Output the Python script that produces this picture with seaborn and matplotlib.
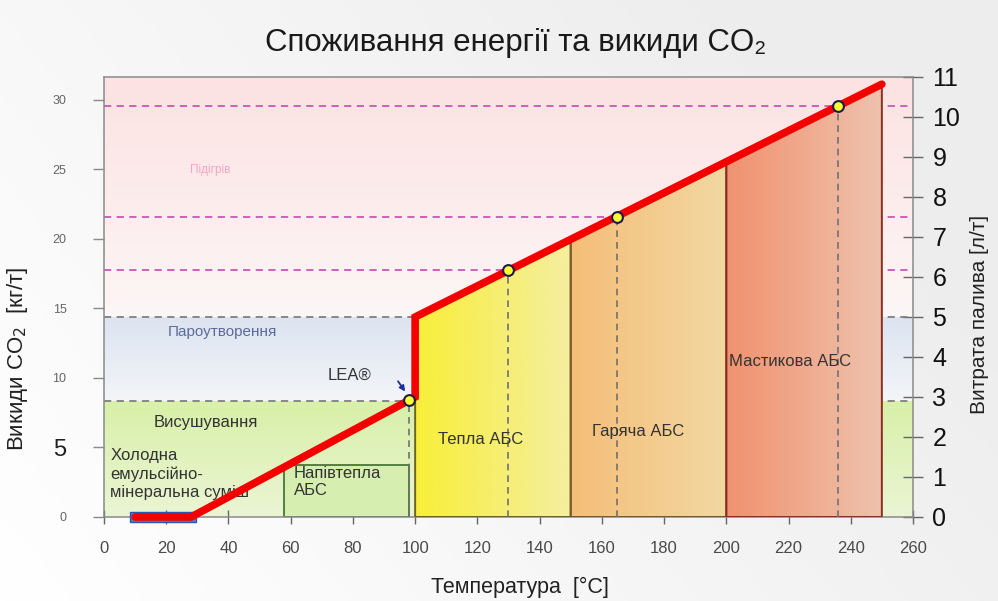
import numpy as np
import matplotlib
matplotlib.use("Agg")
import matplotlib.pyplot as plt
from matplotlib.patches import Polygon, Rectangle
import seaborn as sns

# temperature [°C] vs fuel consumption [l/t]
line_temp = [10, 28, 100, 100, 250]
line_fuel = [0.0, 0.0, 3.0, 5.0, 10.82]

point_temp = [98, 130, 165, 236]
point_fuel = [2.92, 6.18, 7.5, 10.28]

pink_levels = [6.18, 7.5, 10.28]
gray_levels = [2.9, 5.0]

band_limits = [0, 2.9, 5.0, 11]
band_names = ["Висушування", "Пароутворення", "Підігрів"]

mix_names = ["Тепла АБС", "Гаряча АБС", "Мастикова АБС"]
mix_start = [100, 150, 200]
mix_end = [150, 200, 250]

semi_warm_x = [58, 98]
semi_warm_top = 1.3
cold_mix_x = [8.5, 29.5]

x_ticks = list(range(0, 261, 20))
fuel_ticks = list(range(0, 12))
co2_ticks = [0, 5, 10, 15, 20, 25, 30]
co2_max = 31.65

sns.set_theme(style="white")
plt.rcParams["font.family"] = ["Liberation Sans", "DejaVu Sans"]

fig = plt.figure(figsize=(9.98, 6.01), dpi=100)

# light grey page background
bg = fig.add_axes([0, 0, 1, 1], zorder=-10)
gx = np.linspace(0, 1, 200)
gy = np.linspace(0, 1, 120)
GX, GY = np.meshgrid(gx, gy)
shade = 1.0 - 0.07 * np.clip(GX * 0.8 + (1 - GY) * 0.4, 0, 1)
bg.imshow(np.dstack([shade, shade, shade]), extent=[0, 1, 0, 1], aspect="auto", origin="upper")
bg.set_axis_off()

ax = fig.add_axes([0.1042, 0.1398, 0.8106, 0.7321])
ax.set_facecolor("none")
# CO2 axis (left) - twinx resets the tick side of ax, so make it first
ax2 = ax.twinx()


def vgrad(c_bottom, c_top, n=64):
    a = np.array(matplotlib.colors.to_rgb(c_bottom))
    b = np.array(matplotlib.colors.to_rgb(c_top))
    t = np.linspace(0, 1, n)[:, None]
    return (a + (b - a) * t)[:, None, :]


def hgrad(c_left, c_right, n=64):
    a = np.array(matplotlib.colors.to_rgb(c_left))
    b = np.array(matplotlib.colors.to_rgb(c_right))
    t = np.linspace(0, 1, n)[:, None]
    return (a + (b - a) * t)[None, :, :]


# background bands
band_cols = [("#ebf5d4", "#d8f0a8"), ("#f3f5f8", "#dce4f1"), ("#fdf6f6", "#fce2e2")]
for (lo, hi), (cb, ct) in zip(zip(band_limits[:-1], band_limits[1:]), band_cols):
    ax.imshow(vgrad(cb, ct), extent=[0, 260, lo, hi], aspect="auto", origin="lower", zorder=0)

# dashed reference levels
for lv in pink_levels:
    ax.axhline(lv, color="#cc55b5", lw=1.3, ls=(0, (4, 3)), zorder=1)
for lv in gray_levels:
    ax.axhline(lv, color="#7f7f7f", lw=1.3, ls=(0, (4, 3)), zorder=1)

# semi-warm box
ax.add_patch(Rectangle((semi_warm_x[0], 0), semi_warm_x[1] - semi_warm_x[0], semi_warm_top,
                       facecolor="#d6efb0", edgecolor="#3d6b2c", lw=1.2, zorder=2))

# asphalt regions under the line
upper_t = line_temp[3:]
upper_f = line_fuel[3:]
mix_cols = [("#f8ee3a", "#f5eea0", "#6e6420"), ("#f5be78", "#f2d8a2", "#7a5a2a"),
            ("#f1926e", "#eec2ad", "#8a2f22")]
for x0, x1, (cl, cr, ce) in zip(mix_start, mix_end, mix_cols):
    y0 = np.interp(x0, upper_t, upper_f)
    y1 = np.interp(x1, upper_t, upper_f)
    poly = Polygon([(x0, 0), (x0, y0), (x1, y1), (x1, 0)], closed=True,
                   facecolor="none", edgecolor=ce, lw=1.4, zorder=3)
    im = ax.imshow(hgrad(cl, cr), extent=[x0, x1, 0, y1], aspect="auto", origin="lower", zorder=2)
    ax.add_patch(poly)
    im.set_clip_path(poly)

# vertical guides from the marked points
for xt, yf in zip(point_temp, point_fuel):
    ax.plot([xt, xt], [0, yf], color="#707070", lw=1.2, ls=(0, (4, 3)), zorder=4)

# cold mix bar
ax.add_patch(Rectangle((cold_mix_x[0], -0.12), cold_mix_x[1] - cold_mix_x[0], 0.24,
                       facecolor="#4f7fd6", edgecolor="#2a55b0", lw=1, zorder=5, clip_on=False))

sns.lineplot(x=line_temp, y=line_fuel, sort=False, estimator=None, color="#f40000",
             lw=5.5, ax=ax, zorder=6, solid_joinstyle="miter")
ax.lines[-1].set_clip_on(False)
sns.scatterplot(x=point_temp, y=point_fuel, s=60, color="#ffff33", edgecolor="#1b1b4d",
                linewidth=1.5, ax=ax, zorder=7, clip_on=False)

# labels inside the chart
ax.text(34, 8.68, band_names[2], color="#f5a3c7", fontsize=8.5, ha="center", va="center", zorder=5)
ax.text(20.5, 4.63, band_names[1], color="#5b6b9b", fontsize=11, ha="left", va="center", zorder=5)
ax.text(16, 2.35, band_names[0], color="#333333", fontsize=12, ha="left", va="center", zorder=5)
ax.text(2, 1.08, "Холодна\nемульсійно-\nмінеральна суміш", color="#333333", fontsize=12,
        ha="left", va="center", linespacing=1.25, zorder=5)
ax.text(61, 0.87, "Напівтепла\nАБС", color="#333333", fontsize=12, ha="left", va="center",
        linespacing=1.2, zorder=5)
ax.text(79, 3.55, "LEA®", color="#333333", fontsize=12, ha="center", va="center", zorder=5)
ax.annotate("", xy=(97.3, 3.08), xytext=(94, 3.45),
            arrowprops=dict(arrowstyle="-|>", color="#1f2f9a", lw=1.3, mutation_scale=8), zorder=8)
mix_text_pos = [(107.5, 1.93), (157, 2.13), (201, 3.88)]
for name, (tx, ty) in zip(mix_names, mix_text_pos):
    ax.text(tx, ty, name, color="#333333", fontsize=12, ha="left", va="center", zorder=5)

# axes: fuel on the right
ax.set_xlim(0, 260)
ax.set_ylim(0, 11)
ax.set_xticks(x_ticks)
ax.set_yticks(fuel_ticks)
ax.yaxis.tick_right()
ax.yaxis.set_label_position("right")
ax.tick_params(axis="x", direction="inout", length=10, width=1, color="#666666",
               labelsize=12, labelcolor="#4a4a4a", pad=12, bottom=True)
ax.tick_params(axis="y", direction="inout", length=14, width=1, color="#666666",
               labelsize=18, labelcolor="#111111", pad=7, right=True, left=False)
ax.set_xlabel("Температура  [°C]", fontsize=15.5, color="#222222")
ax.xaxis.set_label_coords(0.514, -0.135)
ax.set_ylabel("Витрата палива [л/т]", fontsize=15, color="#222222", rotation=90)
ax.yaxis.set_label_coords(1.071, 0.46)
for sp in ax.spines.values():
    sp.set_color("#8a8a8a")
    sp.set_linewidth(1.1)

# CO2 on the left
ax2.set_ylim(0, co2_max)
ax2.set_yticks(co2_ticks)
ax2.yaxis.tick_left()
ax2.yaxis.set_label_position("left")
ax2.tick_params(axis="y", direction="out", length=8, width=1, color="#8a8a8a",
                labelsize=9, labelcolor="#666666", pad=19, left=True, right=False)
for lab in ax2.get_yticklabels():
    if lab.get_text() == "5":
        lab.set_fontsize(17)
        lab.set_color("#222222")
ax2.set_ylabel("Викиди CO$_2$  [кг/т]", fontsize=16, color="#222222")
ax2.yaxis.set_label_coords(-0.091, 0.36)
for sp in ax2.spines.values():
    sp.set_visible(False)

fig.text(0.517, 0.928, "Споживання енергії та викиди CO₂", fontsize=22.5, ha="center",
         va="center", color="#1a1a1a")

fig.savefig("out.png", dpi=100)
